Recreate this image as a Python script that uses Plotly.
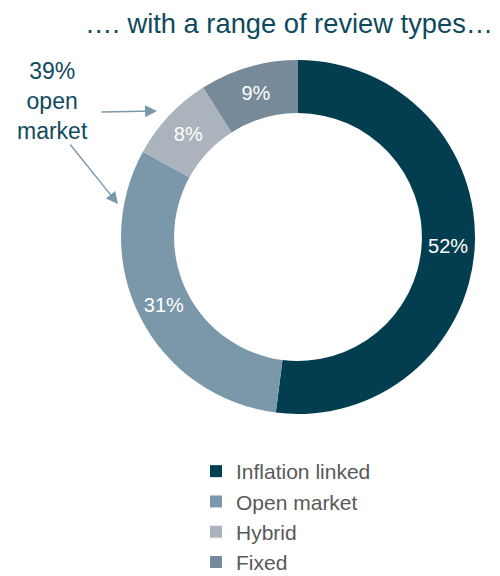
import plotly.graph_objects as go

# Review type mix (% of leases)
categories = ["Inflation linked", "Open market", "Hybrid", "Fixed"]
shares = [52, 31, 8, 9]
colors = ["#033d50", "#7b98ab", "#abb4bd", "#778a9a"]

title_text = "…. with a range of review types…"
callout_text = "39%<br>open<br>market"

W, H = 500, 576
FONT = "Arial, Liberation Sans, sans-serif"
TEAL = "#0e4a5d"
ARROW = "#7b98ab"


def px(x):
    return x / W


def py(y):
    return 1 - y / H


cx, cy, r = 298, 237, 177

fig = go.Figure(
    go.Pie(
        labels=categories,
        values=shares,
        text=[f"{v}%" for v in shares],
        textinfo="text",
        textposition="inside",
        insidetextorientation="horizontal",
        textfont=dict(family=FONT, size=20, color="white"),
        marker=dict(colors=colors, line=dict(width=0)),
        hole=0.70,
        sort=False,
        direction="clockwise",
        rotation=0,
        domain=dict(x=[px(cx - r), px(cx + r)], y=[py(cy + r), py(cy - r)]),
        hoverinfo="label+percent",
    )
)

annotations = [
    dict(
        text=title_text, x=px(83), y=py(24), xref="paper", yref="paper",
        xanchor="left", yanchor="middle", showarrow=False,
        font=dict(family=FONT, size=27.3, color=TEAL),
    ),
    dict(
        text=callout_text, x=px(52), y=py(101), xref="paper", yref="paper",
        xanchor="center", yanchor="middle", showarrow=False, align="center",
        font=dict(family=FONT, size=23, color=TEAL),
    ),
    # arrow pointing to the hybrid slice
    dict(
        text="", x=px(157), y=py(111), xref="paper", yref="paper",
        ax=100 - 157, ay=112 - 111, axref="pixel", ayref="pixel",
        showarrow=True, arrowhead=2, arrowsize=1.7, arrowwidth=1.4,
        arrowcolor=ARROW, standoff=0, startstandoff=0,
    ),
    # arrow pointing to the open market slice
    dict(
        text="", x=px(118), y=py(204), xref="paper", yref="paper",
        ax=69 - 118, ay=143 - 204, axref="pixel", ayref="pixel",
        showarrow=True, arrowhead=2, arrowsize=1.7, arrowwidth=1.4,
        arrowcolor=ARROW, standoff=0, startstandoff=0,
    ),
]

fig.update_layout(
    width=W,
    height=H,
    margin=dict(l=0, r=0, t=0, b=0, autoexpand=False),
    paper_bgcolor="white",
    plot_bgcolor="white",
    annotations=annotations,
    showlegend=True,
    legend=dict(
        x=px(196), y=py(451), xanchor="left", yanchor="top",
        orientation="v", traceorder="normal",
        font=dict(family=FONT, size=21, color="#595959"),
        bgcolor="rgba(0,0,0,0)",
    ),
)

fig.write_html("out.html")
